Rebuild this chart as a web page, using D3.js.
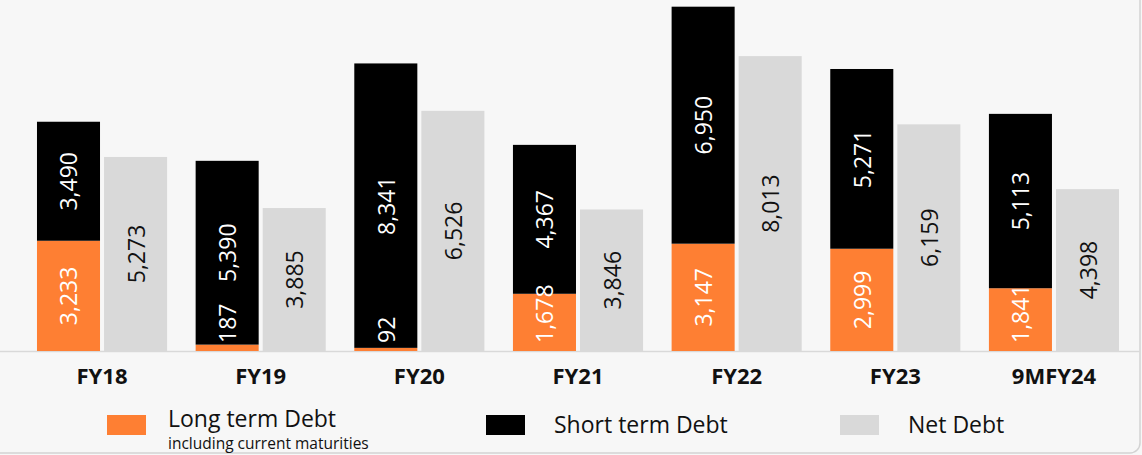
<!DOCTYPE html>
<html>
<head>
<meta charset="utf-8">
<script src="https://cdn.jsdelivr.net/npm/d3@7"></script>
<style>
  html, body { margin: 0; padding: 0; background: #f7f7f7; }
  svg { display: block; }
</style>
</head>
<body>
<svg id="chart" width="1142" height="455"></svg>
<script>
const categories = ["FY18", "FY19", "FY20", "FY21", "FY22", "FY23", "9MFY24"];
const longTermDebt = [3233, 187, 92, 1678, 3147, 2999, 1841];
const shortTermDebt = [3490, 5390, 8341, 4367, 6950, 5271, 5113];
const netDebt = [5273, 3885, 6526, 3846, 8013, 6159, 4398];
const legendLabels = ["Long term Debt", "Short term Debt", "Net Debt"];
const legendSubLabel = "including current maturities";

const colors = { lt: "#fe7f33", st: "#000000", net: "#d9d9d9" };
const font = "'Open Sans', 'Noto Sans', sans-serif";
const fmt = d3.format(",");

const svg = d3.select("#chart");
const baseY = 351;

// frame
svg.append("rect").attr("x", -20).attr("y", -20).attr("width", 1160).attr("height", 473)
  .attr("rx", 10).attr("fill", "#f7f7f7").attr("stroke", "#d3d3d3").attr("stroke-width", 1.5);

const x = d3.scaleBand().domain(categories).range([22.7, 1133.3]).paddingInner(0.18).paddingOuter(0.09);
const xs = d3.scaleBand().domain(["stack", "net"]).range([0, x.bandwidth()]).paddingInner(0.06);
const yStack = d3.scaleLinear().domain([0, 10000]).range([baseY, baseY - 341]);
const yNet = d3.scaleLinear().domain([0, 10000]).range([baseY, baseY - 368]);

const data = categories.map((c, i) => ({ c, lt: longTermDebt[i], st: shortTermDebt[i], net: netDebt[i] }));

// axis baseline
svg.append("line").attr("x1", 0).attr("x2", 1140).attr("y1", baseY + 0.5).attr("y2", baseY + 0.5)
  .attr("stroke", "#d9d9d9").attr("stroke-width", 1.5);

const g = svg.append("g");
const grp = g.selectAll("g.grp").data(data).join("g").attr("class", "grp")
  .attr("transform", d => `translate(${x(d.c)},0)`);

// bars
grp.append("rect").attr("x", xs("stack")).attr("width", xs.bandwidth())
  .attr("y", d => yStack(d.lt)).attr("height", d => baseY - yStack(d.lt)).attr("fill", colors.lt);
grp.append("rect").attr("x", xs("stack")).attr("width", xs.bandwidth())
  .attr("y", d => yStack(d.lt + d.st)).attr("height", d => yStack(d.lt) - yStack(d.lt + d.st)).attr("fill", colors.st);
grp.append("rect").attr("x", xs("net")).attr("width", xs.bandwidth())
  .attr("y", d => yNet(d.net)).attr("height", d => baseY - yNet(d.net)).attr("fill", colors.net);

function vlabel(sel, cx, fill) {
  return sel.append("text")
    .attr("font-family", font).attr("font-size", 23).attr("fill", fill)
    .attr("text-anchor", "middle").attr("dominant-baseline", "central")
    .attr("transform", `translate(${cx},0) rotate(-90)`);
}
const cxS = xs("stack") + xs.bandwidth() / 2;
const cxN = xs("net") + xs.bandwidth() / 2;

grp.each(function(d) {
  const s = d3.select(this);
  // long term label
  const t1 = vlabel(s, cxS, "#ffffff").text(fmt(d.lt));
  const len1 = t1.node().getComputedTextLength();
  const c1 = Math.min((yStack(d.lt) + baseY) / 2, baseY - 8 - len1 / 2);
  t1.attr("transform", `translate(${cxS},${c1}) rotate(-90)`);
  // short term label
  const c2 = (yStack(d.lt) + yStack(d.lt + d.st)) / 2;
  vlabel(s, cxS, "#ffffff").text(fmt(d.st)).attr("transform", `translate(${cxS},${c2}) rotate(-90)`);
  // net label
  const c3 = (yNet(d.net) + baseY) / 2;
  vlabel(s, cxN, "#111111").text(fmt(d.net)).attr("transform", `translate(${cxN},${c3}) rotate(-90)`);
});

// x axis labels
const xAxis = svg.append("g").attr("transform", `translate(0,${baseY + 17})`)
  .call(d3.axisBottom(x).tickSize(0).tickPadding(0));
xAxis.select(".domain").remove();
xAxis.selectAll("text").attr("font-family", font).attr("font-size", 22).attr("font-weight", "bold")
  .attr("fill", "#111").attr("dy", "0.71em");

// legend
const legendX = [107, 486, 840];
const legendColors = [colors.lt, colors.st, colors.net];
const lg = svg.append("g");
legendLabels.forEach((lab, i) => {
  lg.append("rect").attr("x", legendX[i]).attr("y", 415).attr("width", 39).attr("height", 20).attr("fill", legendColors[i]);
  lg.append("text").attr("x", legendX[i] + (i === 0 ? 61 : 68)).attr("y", i === 0 ? 427 : 433)
    .attr("font-family", font).attr("font-size", 23).attr("fill", "#111").text(lab);
});
lg.append("text").attr("x", 168).attr("y", 449).attr("font-family", font).attr("font-size", 15.5)
  .attr("fill", "#111").text(legendSubLabel);
</script>
</body>
</html>
